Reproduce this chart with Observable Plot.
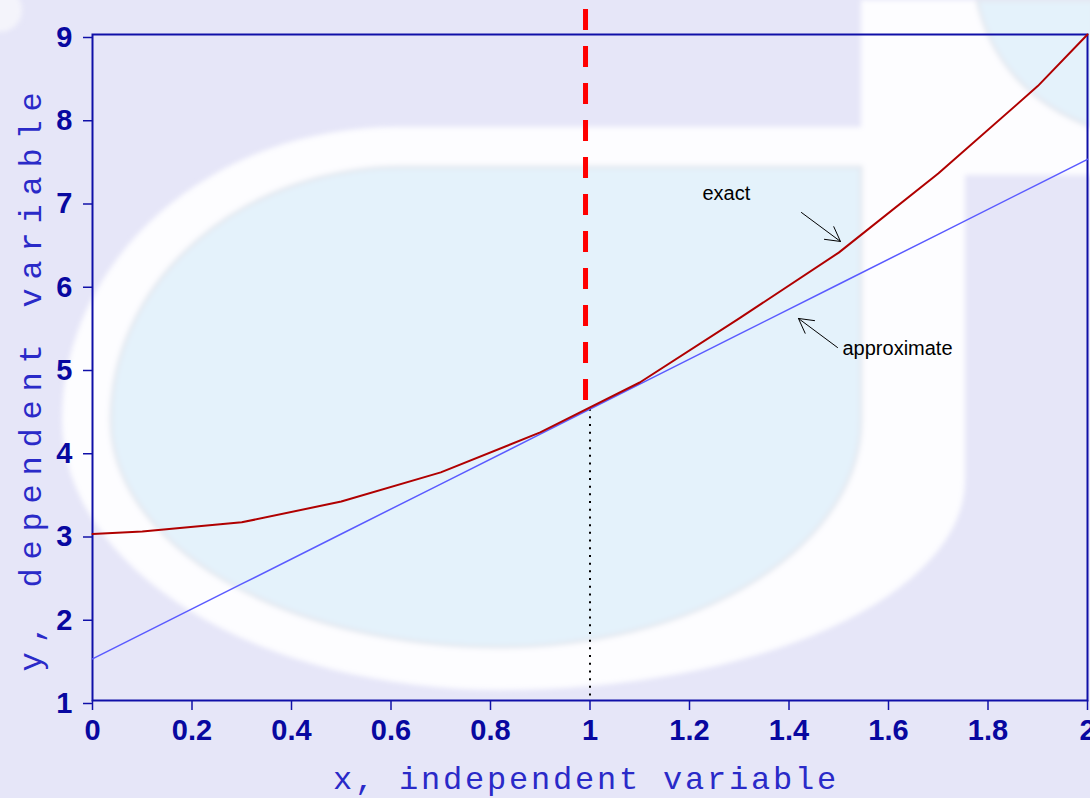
<!DOCTYPE html>
<html><head><meta charset="utf-8">
<script src="https://cdn.jsdelivr.net/npm/d3@7"></script>
<script src="https://cdn.jsdelivr.net/npm/@observablehq/plot@0.6"></script>
<style>
html,body{margin:0;padding:0;background:#e6e6f8;}
#wrap{position:relative;width:1090px;height:798px;overflow:hidden;}
#bg{position:absolute;left:0;top:0;}
#chart{position:absolute;left:0;top:0;}
</style></head><body>
<div id="wrap">
<svg id="bg" width="1090" height="798">
  <defs><filter id="soft" x="-5%" y="-5%" width="110%" height="110%"><feGaussianBlur stdDeviation="2.5"/></filter></defs>
  <rect width="1090" height="798" fill="#e6e6f8"/>
  <g filter="url(#soft)">
    <path d="M 861 0 L 965 0 L 965 480 A 465 210 0 0 1 500 690 A 438 270 0 0 1 62 420 A 334 293 0 0 1 396 127 L 861 127 Z" fill="#fdfdff"/>
    <rect x="960" y="0" width="140" height="175" fill="#fdfdff"/>
    <path d="M 861 167 L 861 420 A 361 227 0 0 1 500 647 A 389 227 0 0 1 111 420 A 292 253 0 0 1 403 167 Z" fill="#e4f2fb" stroke="#e2e6ee" stroke-width="3"/>
    <path d="M 977 0 C 990 60 1030 105 1095 128 L 1095 0 Z" fill="#e4f2fb" stroke="#e2e6ee" stroke-width="3"/>
    <circle cx="0" cy="10" r="22" fill="#f4f4fb"/>
  </g>
</svg>
<div id="chart"></div>
</div>
<script>
// data
const xs       = [0, 0.1, 0.3, 0.5, 0.7, 0.9, 1.1, 1.3, 1.5, 1.7, 1.9, 2];
const exactY   = [3, 3.03, 3.14, 3.39, 3.74, 4.22, 4.82, 5.59, 6.38, 7.33, 8.38, 9];
const approxY  = [1.5, 1.8, 2.4, 3.0, 3.6, 4.2, 4.8, 5.4, 6.0, 6.6, 7.2, 7.5];
const xTicks      = [0, 0.2, 0.4, 0.6, 0.8, 1, 1.2, 1.4, 1.6, 1.8, 2];
const xTickLabels = ["0","0.2","0.4","0.6","0.8","1","1.2","1.4","1.6","1.8","2"];
const yTicks      = [1, 2, 3, 4, 5, 6, 7, 8, 9];
const xLabel = "x, independent variable";
const yLabel = "y, dependent variable";
const expansionPoint = {x: 1, y: 4.5};
const redLine = {x: 0.991, yTop: 9.3, yBottom: 4.55};
const notes = [
  {text: "exact", x: 1.226, y: 7.09},
  {text: "approximate", x: 1.5075, y: 5.228}
];
const arrows = [
  {x1: 1.425, y1: 6.862, x2: 1.5035, y2: 6.514},
  {x1: 1.4975, y1: 5.240, x2: 1.419, y2: 5.589}
];

const exact = xs.map((x, i) => ({x, y: exactY[i]}));
const approx = xs.map((x, i) => ({x, y: approxY[i]}));

const axisColor = "#1010a8";
const tickText = "#0808a0";
const labelColor = "#2a2ac8";

const plot = Plot.plot({
  width: 1090, height: 798,
  marginLeft: 92, marginRight: 3, marginTop: 34, marginBottom: 98,
  style: {background: "transparent", fontFamily: "'Liberation Sans', Arial, sans-serif", fontSize: "28px", overflow: "visible"},
  x: {domain: [0, 2]},
  y: {domain: [1, 9]},
  marks: [
    Plot.axisX({ticks: xTicks, tickFormat: d => xTickLabels[xTicks.indexOf(d)], tickSize: 10, tickPadding: 9,
      stroke: axisColor, strokeWidth: 1.5, color: tickText, fontSize: 29, fontWeight: "bold", label: null}),
    Plot.axisY({ticks: yTicks, tickFormat: d => String(d), tickSize: 9, tickPadding: 11, dy: 3,
      stroke: axisColor, strokeWidth: 1.5, color: tickText, fontSize: 29, fontWeight: "bold", label: null}),
    Plot.frame({stroke: axisColor, strokeWidth: 2}),
    Plot.ruleX([expansionPoint], {x: "x", y1: "y", y2: 1, stroke: "black", strokeWidth: 2, strokeDasharray: "2,5.7"}),
    Plot.line(approx, {x: "x", y: "y", stroke: "#5a5aff", strokeWidth: 1.5}),
    Plot.line(exact, {x: "x", y: "y", stroke: "#b00000", strokeWidth: 2}),
    Plot.ruleX([redLine], {x: "x", y1: "yTop", y2: "yBottom", stroke: "#ff0000", strokeWidth: 5, strokeDasharray: "21,16"}),
    Plot.text(notes, {x: "x", y: "y", text: "text", textAnchor: "start", fill: "black", fontSize: 20,
      fontFamily: "'Liberation Sans', Arial, sans-serif"}),
    Plot.arrow(arrows, {x1: "x1", y1: "y1", x2: "x2", y2: "y2", stroke: "black", strokeWidth: 1, headLength: 26, headAngle: 58}),
    Plot.text([xLabel], {frameAnchor: "bottom", lineAnchor: "bottom", textAnchor: "middle", dy: 88, dx: -4, text: d => d,
      fill: labelColor, fontSize: 32, fontFamily: "'Liberation Mono', 'DejaVu Sans Mono', monospace"}),
    Plot.text([yLabel], {frameAnchor: "left", lineAnchor: "bottom", textAnchor: "middle", rotate: -90, dx: -52, dy: 10, text: d => d,
      fill: labelColor, fontSize: 32, fontFamily: "'Liberation Mono', 'DejaVu Sans Mono', monospace"})
  ]
});
d3.select(plot).selectAll("text").each(function() {
  const t = this.textContent;
  if (t === xLabel) this.style.letterSpacing = "2.8px";
  if (t === yLabel) this.style.letterSpacing = "8.8px";
});
document.getElementById("chart").appendChild(plot);
</script>
</body></html>
